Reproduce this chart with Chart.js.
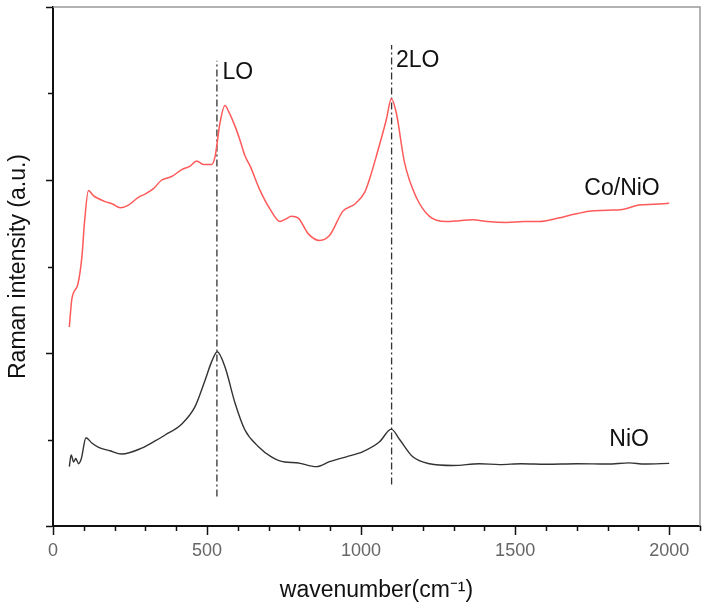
<!DOCTYPE html>
<html>
<head>
<meta charset="utf-8">
<script src="https://cdn.jsdelivr.net/npm/chart.js@4.4.1/dist/chart.umd.min.js"></script>
<style>
  body { margin: 0; background: #fff; }
  canvas { display: block; }
</style>
</head>
<body>
<canvas id="ramanChart" width="704" height="609"></canvas>
<script>
// Co/NiO spectrum (red)
const coNioX = [53, 61, 81, 94, 102, 115, 131, 150, 169, 195, 218, 245, 277, 300, 326, 353, 385, 418, 445, 466, 488, 515, 526, 542, 558, 569, 591, 607, 623, 640, 672, 705, 737, 756, 774, 796, 828, 866, 898, 941, 979, 1012, 1030, 1049, 1082, 1098, 1114, 1141, 1179, 1222, 1276, 1319, 1362, 1410, 1471, 1530, 1578, 1640, 1686, 1740, 1800, 1848, 1902, 1950, 2000];
const coNioY = [1.15, 1.31, 1.40, 1.56, 1.75, 1.94, 1.91, 1.89, 1.875, 1.86, 1.84, 1.855, 1.90, 1.92, 1.95, 2.0, 2.02, 2.06, 2.08, 2.11, 2.09, 2.09, 2.135, 2.33, 2.43, 2.40, 2.31, 2.23, 2.14, 2.08, 1.94, 1.83, 1.76, 1.775, 1.79, 1.78, 1.69, 1.65, 1.68, 1.82, 1.86, 1.93, 2.02, 2.135, 2.35, 2.47, 2.39, 2.10, 1.90, 1.79, 1.76, 1.765, 1.77, 1.76, 1.755, 1.76, 1.76, 1.78, 1.80, 1.82, 1.825, 1.83, 1.855, 1.86, 1.865];

// NiO spectrum (black)
const nioX = [53, 59, 67, 74, 83, 92, 107, 126, 148, 185, 223, 288, 330, 364, 418, 461, 493, 515, 533, 558, 591, 623, 666, 709, 752, 790, 855, 898, 952, 1006, 1060, 1098, 1125, 1168, 1222, 1298, 1384, 1450, 1520, 1600, 1700, 1800, 1870, 1920, 2000];
const nioY = [0.343, 0.41, 0.37, 0.39, 0.36, 0.39, 0.51, 0.48, 0.455, 0.435, 0.416, 0.45, 0.49, 0.526, 0.59, 0.69, 0.84, 0.95, 1.007, 0.92, 0.71, 0.555, 0.46, 0.40, 0.37, 0.366, 0.343, 0.372, 0.40, 0.43, 0.487, 0.56, 0.50, 0.40, 0.36, 0.35, 0.36, 0.355, 0.36, 0.357, 0.36, 0.358, 0.365, 0.358, 0.362];

// dash-dot marker lines for the LO / 2LO modes
const peakPositions = [532, 1099];
const peakLineLow = [0.17, 0.24];
const peakLineHigh = [2.69, 2.78];

const xTickValues = [0, 500, 1000, 1500, 2000];

// text labels on the plot: [text, x, y, align]
const plotLabels = [
  ["LO", 550, 2.62, "left"],
  ["2LO", 1113, 2.69, "left"],
  ["Co/NiO", 1847, 1.95, "center"],
  ["NiO", 1870, 0.5, "center"],
];

const FONT = "'Liberation Sans', Arial, sans-serif";

function toPoints(xs, ys) {
  return xs.map((x, i) => ({ x, y: ys[i] }));
}

const peakLineSets = peakPositions.map((p, i) => ({
  data: [{ x: p, y: peakLineLow[i] }, { x: p, y: peakLineHigh[i] }],
  borderColor: "#333",
  borderWidth: 1.3,
  borderDash: [7, 3, 2, 3],
  pointRadius: 0,
  tension: 0,
}));

const frameAndLabels = {
  id: "frameAndLabels",
  afterDraw(chart) {
    const { ctx, chartArea: a, scales } = chart;
    const xs = scales.x;
    const ys = scales.y;
    ctx.save();

    // grey top and right border
    ctx.strokeStyle = "#999";
    ctx.lineWidth = 1.5;
    ctx.beginPath();
    ctx.moveTo(a.left, a.top);
    ctx.lineTo(a.right, a.top);
    ctx.lineTo(a.right, a.bottom);
    ctx.stroke();

    // minor ticks
    ctx.strokeStyle = "#111";
    ctx.lineWidth = 1.5;
    ctx.beginPath();
    for (let v = 100; v <= xs.max; v += 100) {
      if (v % 500 === 0) continue;
      const px = Math.round(xs.getPixelForValue(v)) + 0.5;
      ctx.moveTo(px, a.bottom);
      ctx.lineTo(px, a.bottom + 5);
    }
    for (let v = 0.5; v < ys.max; v += 1) {
      const py = Math.round(ys.getPixelForValue(v)) + 0.5;
      ctx.moveTo(a.left, py);
      ctx.lineTo(a.left - 5, py);
    }
    ctx.stroke();

    // labels
    ctx.fillStyle = "#111";
    ctx.font = "23px " + FONT;
    ctx.textBaseline = "middle";
    plotLabels.forEach(([text, x, y, align]) => {
      ctx.textAlign = align;
      ctx.fillText(text, xs.getPixelForValue(x), ys.getPixelForValue(y));
    });
    ctx.restore();
  },
};

new Chart(document.getElementById("ramanChart"), {
  type: "line",
  data: {
    datasets: [
      {
        label: "Co/NiO",
        data: toPoints(coNioX, coNioY),
        borderColor: "#ff5a5a",
        borderWidth: 1.5,
        pointRadius: 0,
        cubicInterpolationMode: "monotone",
      },
      {
        label: "NiO",
        data: toPoints(nioX, nioY),
        borderColor: "#333",
        borderWidth: 1.4,
        pointRadius: 0,
        cubicInterpolationMode: "monotone",
      },
      ...peakLineSets,
    ],
  },
  options: {
    responsive: false,
    animation: false,
    layout: { padding: { top: 7, right: 4, left: 0, bottom: 0 } },
    plugins: {
      legend: { display: false },
      tooltip: { enabled: false },
    },
    scales: {
      x: {
        type: "linear",
        min: 0,
        max: 2100,
        afterFit: (s) => { s.height = 83; },
        afterBuildTicks: (s) => { s.ticks = xTickValues.map((v) => ({ value: v })); },
        grid: {
          drawOnChartArea: false,
          tickLength: 9,
          tickWidth: 1.5,
          tickColor: "#111",
        },
        border: { color: "#111", width: 2 },
        ticks: {
          color: "#666",
          padding: 5,
          maxRotation: 0,
          callback: (v) => String(v),
          font: { family: FONT, size: 18 },
        },
        title: {
          display: true,
          text: "wavenumber(cm⁻¹)",
          color: "#111",
          padding: { top: 0, bottom: 5 },
          font: { family: FONT, size: 23 },
        },
      },
      y: {
        min: 0,
        max: 3,
        afterFit: (s) => { s.width = 53; },
        ticks: { display: false, stepSize: 1 },
        grid: {
          drawOnChartArea: false,
          tickLength: 7,
          tickWidth: 1.5,
          tickColor: "#111",
        },
        border: { color: "#111", width: 2 },
        title: {
          display: true,
          text: "Raman intensity (a.u.)",
          color: "#111",
          padding: { top: 5, bottom: 0 },
          font: { family: FONT, size: 23 },
        },
      },
    },
  },
  plugins: [frameAndLabels],
});
</script>
</body>
</html>
